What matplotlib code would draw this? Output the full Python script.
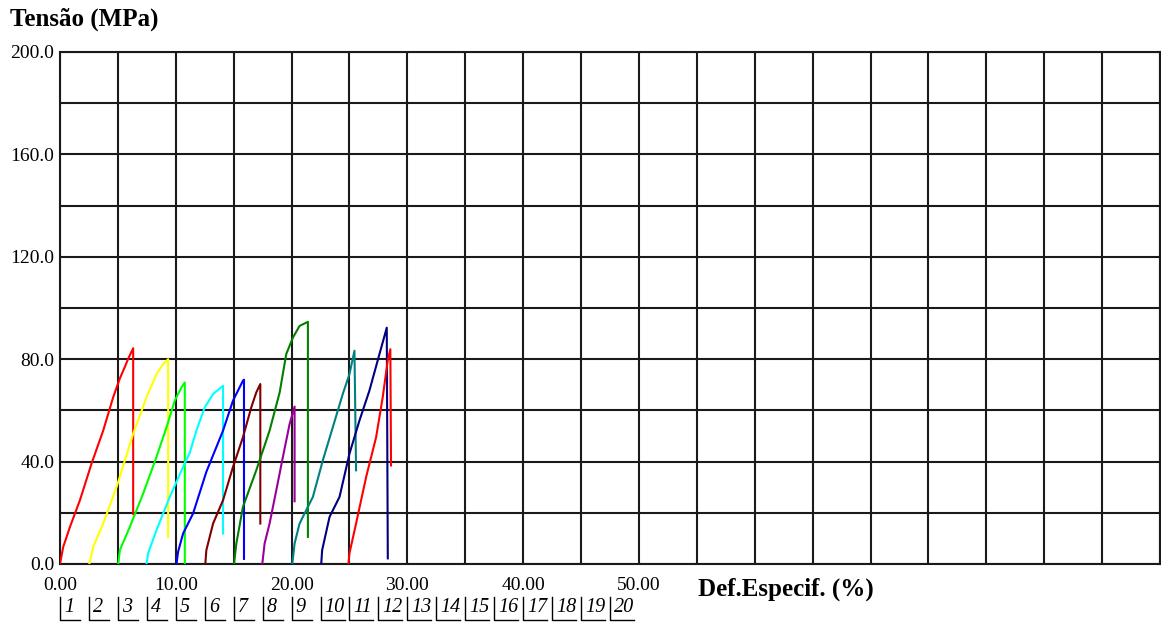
import numpy as np
import matplotlib
matplotlib.use('Agg')
from matplotlib import pyplot as plt

plt.rcParams['font.family'] = ['Liberation Serif', 'DejaVu Serif']

# deformação (%) e tensão (MPa) de cada corpo de prova, curvas deslocadas de 2.5 %
cp1_def = [0.00, 0.28, 0.86, 1.72, 2.73, 3.73, 4.59, 5.17, 5.60, 5.89, 6.32, 6.32]
cp1_ten = [0.0, 6.7, 14.5, 24.9, 39.3, 52.1, 65.1, 72.5, 77.0, 80.2, 84.3, 19.5]

cp2_def = [2.53, 2.87, 3.73, 4.89, 6.32, 7.47, 8.33, 8.91, 9.34, 9.34]
cp2_ten = [0.0, 6.7, 15.8, 30.1, 50.9, 65.1, 74.2, 78.1, 80.0, 10.6]

cp3_def = [5.03, 5.17, 6.03, 7.18, 8.33, 9.20, 9.91, 10.49, 10.78, 10.78]
cp3_ten = [0.0, 5.4, 14.5, 27.5, 41.8, 53.4, 63.8, 69.0, 70.9, 0.0]

cp4_def = [7.47, 7.61, 8.33, 9.48, 10.63, 11.21, 11.78, 12.50, 13.22, 14.08, 14.08]
cp4_ten = [0.0, 4.2, 13.2, 26.2, 37.9, 43.5, 52.1, 61.2, 66.4, 69.6, 11.9]

cp5_def = [10.06, 10.20, 10.63, 11.49, 12.64, 14.08, 14.94, 15.80, 15.89, 15.89]
cp5_ten = [0.0, 4.8, 11.9, 19.7, 36.0, 52.1, 63.8, 71.6, 72.0, 2.0]

cp6_def = [12.55, 12.64, 13.22, 14.08, 14.94, 15.80, 16.52, 16.95, 17.30, 17.30]
cp6_ten = [0.0, 5.4, 15.8, 24.9, 37.9, 49.5, 61.2, 67.0, 70.3, 15.8]

cp7_def = [15.03, 15.23, 15.80, 16.95, 18.10, 18.97, 19.54, 20.11, 20.69, 21.41, 21.41]
cp7_ten = [0.0, 8.0, 22.3, 36.6, 52.1, 67.0, 82.0, 88.4, 93.0, 94.6, 10.6]

cp8_def = [17.47, 17.67, 18.10, 18.68, 19.25, 19.83, 20.26, 20.26]
cp8_ten = [0.0, 8.0, 15.8, 28.8, 41.8, 54.7, 61.5, 24.5]

cp9_def = [20.06, 20.26, 20.69, 21.84, 22.70, 23.56, 24.42, 25.00, 25.43, 25.57]
cp9_ten = [0.0, 8.0, 15.8, 26.2, 40.5, 53.4, 66.4, 74.2, 83.3, 36.6]

cp10_def = [22.56, 22.64, 23.28, 24.14, 25.00, 25.86, 26.72, 27.59, 28.22, 28.31]
cp10_ten = [0.0, 5.4, 18.4, 26.2, 43.1, 56.0, 67.7, 82.0, 92.3, 2.2]

cp11_def = [24.91, 25.00, 25.57, 26.44, 27.30, 27.87, 28.30, 28.53, 28.59]
cp11_ten = [0.0, 4.2, 15.8, 34.0, 49.5, 65.1, 79.4, 83.9, 38.5]

curvas = [(cp1_def, cp1_ten), (cp2_def, cp2_ten), (cp3_def, cp3_ten),
          (cp4_def, cp4_ten), (cp5_def, cp5_ten), (cp6_def, cp6_ten),
          (cp7_def, cp7_ten), (cp8_def, cp8_ten), (cp9_def, cp9_ten),
          (cp10_def, cp10_ten), (cp11_def, cp11_ten)]
cores = ['#ff0000', '#ffff00', '#00ff00', '#00ffff', '#0000ff', '#800000',
         '#008000', '#990099', '#008080', '#000080', '#ff0000']

n_cps = 20
passo_cp = 2.5
x_ticks = np.arange(0, 95.1, 5)
y_ticks = np.arange(0, 201, 20)
x_rotulos = [0, 10, 20, 30, 40, 50]
y_rotulos = [0, 40, 80, 120, 160, 200]

W, H = 1161, 626
fig = plt.figure(figsize=(W / 100, H / 100), dpi=100)
ax = fig.add_axes([60 / W, 62 / H, 1100 / W, 512 / H])

for (xx, yy), c in zip(curvas, cores):
    ax.plot(xx, yy, color=c, lw=1.5, zorder=3)

ax.set_xlim(0, 95)
ax.set_ylim(0, 200)
ax.set_xticks(x_ticks)
ax.set_yticks(y_ticks)
ax.set_xticklabels(['%.2f' % v if v in x_rotulos else '' for v in x_ticks])
ax.set_yticklabels(['%.1f' % v if v in y_rotulos else '' for v in y_ticks])
ax.tick_params(length=0, labelsize=14, colors='black')
ax.tick_params(axis='x', pad=9)
ax.tick_params(axis='y', pad=4)
ax.grid(True, color='#1a1a1a', lw=1.5, zorder=1)
for s in ax.spines.values():
    s.set_color('#1a1a1a')
    s.set_linewidth(1.5)

fig.text(10 / W, 1 - 19 / H, 'Tensão (MPa)', fontsize=18, fontweight='bold',
         va='center', ha='left')
fig.text(698 / W, 1 - 589 / H, 'Def.Especif. (%)', fontsize=18, fontweight='bold',
         va='center', ha='left')

# legenda numerada dos corpos de prova
for i in range(n_cps):
    x0 = i * passo_cp
    larg = 20 if i < 9 else 24
    x_px = ax.transData.transform((x0, 0))[0]
    fig.add_artist(plt.Line2D([x_px / W, x_px / W, (x_px + larg) / W],
                              [1 - 597 / H, 1 - 620 / H, 1 - 620 / H],
                              color='black', lw=1.0, transform=fig.transFigure))
    fig.text((x_px + 4) / W, 1 - 608 / H, str(i + 1), fontsize=14.5,
             style='italic', va='center', ha='left')

fig.savefig('out.png', dpi=100)
